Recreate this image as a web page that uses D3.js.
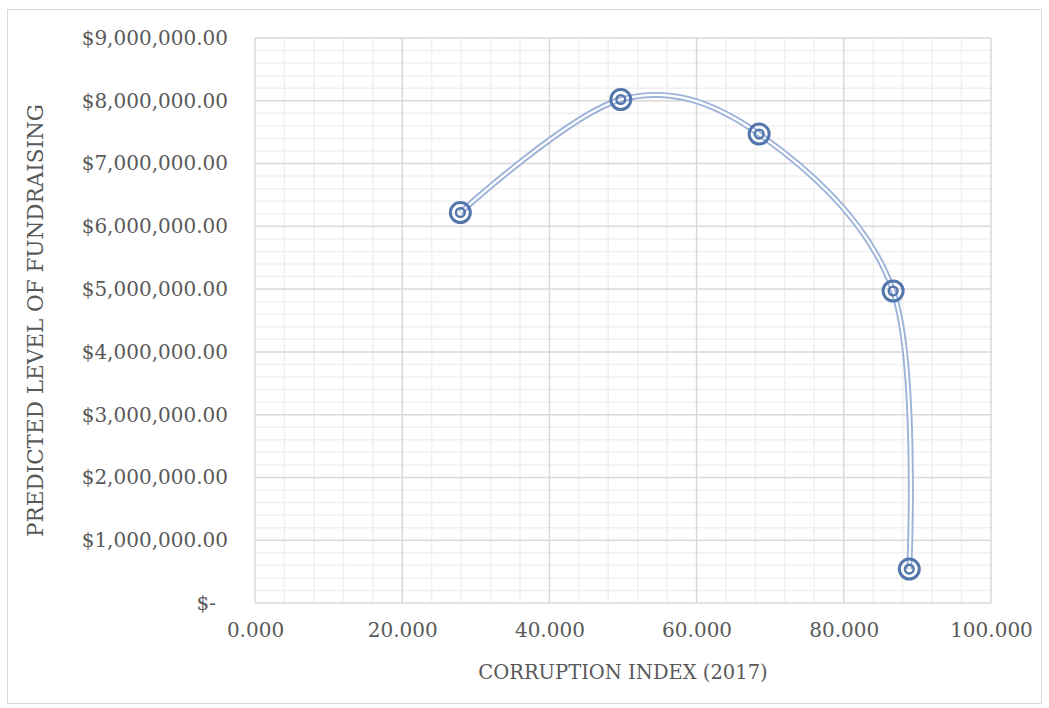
<!DOCTYPE html>
<html>
<head>
<meta charset="utf-8">
<script src="https://cdn.jsdelivr.net/npm/d3@7"></script>
<style>
  html, body { margin: 0; padding: 0; background: #fff; }
  svg { display: block; }
  text { font-family: "DejaVu Serif", "Liberation Serif", serif; fill: #595959; }
</style>
</head>
<body>
<svg id="chart" width="1049" height="708"></svg>
<script>
// Corruption index (2017) against predicted fundraising level
const corruptionIndex = [27.9, 49.7, 68.5, 86.7, 88.9];
const predictedFunds  = [6220000, 8020000, 7470000, 4970000, 540000];

const xTicks = [0, 20, 40, 60, 80, 100];
const yTicks = [0, 1e6, 2e6, 3e6, 4e6, 5e6, 6e6, 7e6, 8e6, 9e6];
const xTitle = "CORRUPTION INDEX (2017)";
const yTitle = "PREDICTED LEVEL OF FUNDRAISING";

const plot = { left: 255, top: 38, right: 991, bottom: 603 };

const svg = d3.select("#chart");

// chart area frame
svg.append("rect")
  .attr("x", 7.5).attr("y", 9.5)
  .attr("width", 1034).attr("height", 694)
  .attr("fill", "#fff").attr("stroke", "#d9d9d9").attr("stroke-width", 1);

const x = d3.scaleLinear().domain([0, 100]).range([plot.left, plot.right]);
const y = d3.scaleLinear().domain([0, 9e6]).range([plot.bottom, plot.top]);

const grid = svg.append("g");

// minor gridlines: every 4 index points and every $200,000
const xMinor = d3.range(0, 100.001, 4).filter(v => v % 20 !== 0);
const yMinor = d3.range(0, 9e6 + 1, 2e5).filter(v => v % 1e6 !== 0);

grid.selectAll(".xminor").data(xMinor).join("line")
  .attr("x1", d => x(d)).attr("x2", d => x(d))
  .attr("y1", plot.top).attr("y2", plot.bottom)
  .attr("stroke", "#f0f0f0").attr("stroke-width", 1.5);
grid.selectAll(".yminor").data(yMinor).join("line")
  .attr("x1", plot.left).attr("x2", plot.right)
  .attr("y1", d => y(d)).attr("y2", d => y(d))
  .attr("stroke", "#f0f0f0").attr("stroke-width", 1.5);

// major gridlines
grid.selectAll(".xmajor").data(xTicks).join("line")
  .attr("x1", d => x(d)).attr("x2", d => x(d))
  .attr("y1", plot.top).attr("y2", plot.bottom)
  .attr("stroke", "#d9d9d9").attr("stroke-width", 1.5);
grid.selectAll(".ymajor").data(yTicks).join("line")
  .attr("x1", plot.left).attr("x2", plot.right)
  .attr("y1", d => y(d)).attr("y2", d => y(d))
  .attr("stroke", "#d9d9d9").attr("stroke-width", 1.5);

// axes (labels only, lines come from the grid)
const fmtMoney = d => d === 0 ? "$-" : "$" + d3.format(",.2f")(d);
const yAxis = d3.axisLeft(y).tickValues(yTicks).tickSize(0).tickPadding(0).tickFormat(fmtMoney);
const yG = svg.append("g").attr("transform", `translate(${plot.left - 27},0)`).call(yAxis);
yG.select(".domain").remove();
yG.selectAll("text")
  .style("font-size", "20px").attr("fill", "#595959")
  .attr("dx", d => d === 0 ? -12 : 0);

const xAxis = d3.axisBottom(x).tickValues(xTicks).tickSize(0).tickPadding(0).tickFormat(d3.format(".3f"));
const xG = svg.append("g").attr("transform", `translate(0,${plot.bottom + 20})`).call(xAxis);
xG.select(".domain").remove();
xG.selectAll("text").style("font-size", "20px").attr("fill", "#595959");

// axis titles
svg.append("text")
  .attr("x", 623).attr("y", 679)
  .attr("text-anchor", "middle").style("font-size", "19.5px")
  .text(xTitle);
svg.append("text")
  .attr("transform", `translate(43,${(plot.top + plot.bottom) / 2}) rotate(-90)`)
  .attr("text-anchor", "middle").style("font-size", "21.5px")
  .text(yTitle);

// smoothed double line
const pts = corruptionIndex.map((c, i) => [c, predictedFunds[i]]);
const line = d3.line()
  .x(d => x(d[0])).y(d => y(d[1]))
  .curve(d3.curveCatmullRom.alpha(0));

svg.append("path").datum(pts)
  .attr("d", line).attr("fill", "none")
  .attr("stroke", "#9db3da").attr("stroke-width", 6);
svg.append("path").datum(pts)
  .attr("d", line).attr("fill", "none")
  .attr("stroke", "#fff").attr("stroke-width", 2.2);

// bullseye markers
const mk = svg.append("g");
mk.selectAll(".outer").data(pts).join("circle")
  .attr("cx", d => x(d[0])).attr("cy", d => y(d[1]))
  .attr("r", 10).attr("fill", "none")
  .attr("stroke", "#5275aa").attr("stroke-width", 3);
mk.selectAll(".inner").data(pts).join("circle")
  .attr("cx", d => x(d[0])).attr("cy", d => y(d[1]))
  .attr("r", 4.4).attr("fill", "none")
  .attr("stroke", "#5275aa").attr("stroke-width", 2.4);
</script>
</body>
</html>
